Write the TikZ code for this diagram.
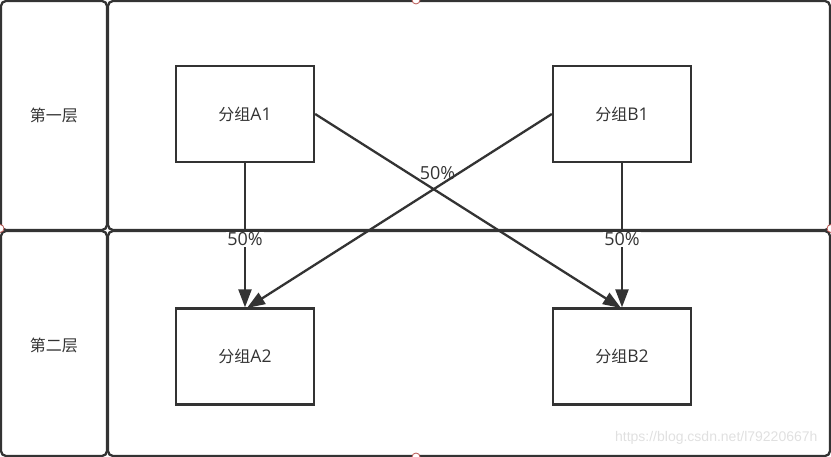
\documentclass[tikz,border=0pt]{standalone}
\usepackage{fontspec}
\newfontfamily\cjk{Noto Sans CJK SC}
\newfontfamily\lat{Open Sans}
\newfontfamily\wm{Liberation Sans}
\usetikzlibrary{arrows.meta}
\definecolor{ln}{HTML}{333333}
\definecolor{hd}{HTML}{B85450}
\begin{document}
\begin{tikzpicture}[x=1pt,y=-1pt,
  lane/.style={draw=ln,line width=2.3pt,rounded corners=5pt},
  grp/.style={draw=ln,line width=2.3pt,minimum width=138pt,minimum height=96pt,inner sep=0pt,font=\cjk\fontsize{16}{18}\selectfont,text=ln},
  lanelabel/.style={font=\cjk\fontsize{16}{18}\selectfont,text=ln},
  conn/.style={draw=ln,line width=2.3pt,-{Triangle[length=18pt,width=13pt]}},
  pct/.style={font=\lat\fontsize{18}{20}\selectfont,text=ln,inner sep=1pt},
  handle/.style={circle,draw=hd,fill=white,line width=0.8pt,minimum size=8pt,inner sep=0pt}]
\useasboundingbox (0,0) rectangle (831,457);
% lanes
\draw[lane] (1,1) rectangle (107,230);
\draw[lane] (1,231) rectangle (107,456);
\draw[lane] (108,1) rectangle (830,230);
\draw[lane] (108,231) rectangle (830,456);
\node[lanelabel] (l1) at (54,115) {第一层};
\node[lanelabel] (l2) at (54,345) {第二层};
% groups
\node[grp] (a1) at (245,114) {分组{\lat\fontsize{17.5}{18}\selectfont A1}};
\node[grp] (b1) at (622,114) {分组{\lat\fontsize{17.5}{18}\selectfont B1}};
\node[grp] (a2) at (245,356.5) {分组{\lat\fontsize{17.5}{18}\selectfont A2}};
\node[grp] (b2) at (622,356.5) {分组{\lat\fontsize{17.5}{18}\selectfont B2}};
\coordinate (a2t) at (247,308);
\coordinate (b2t) at (621,308);
% connectors
\draw[conn] (a1.east) -- (b2t) node[pct,pos=0.4,yshift=19pt] {50\%};
\draw[conn] (b1.west) -- (a2t);
\draw[conn] (a1.south) -- (a2.north) node[pct,pos=0.527,fill=white] {50\%};
\draw[conn] (b1.south) -- (b2.north) node[pct,pos=0.527,fill=white] {50\%};
% handles
\node[handle] (h1) at (416,0) {};
\node[handle] (h2) at (831,228.5) {};
\node[handle] (h3) at (416,457) {};
\node[handle] (h4) at (0,228.5) {};
% watermark
\node[font=\wm\fontsize{14}{16}\selectfont,text=black!12,anchor=east] (wm) at (821,438) {https://blog.csdn.net/l79220667h};
\end{tikzpicture}
\end{document}
